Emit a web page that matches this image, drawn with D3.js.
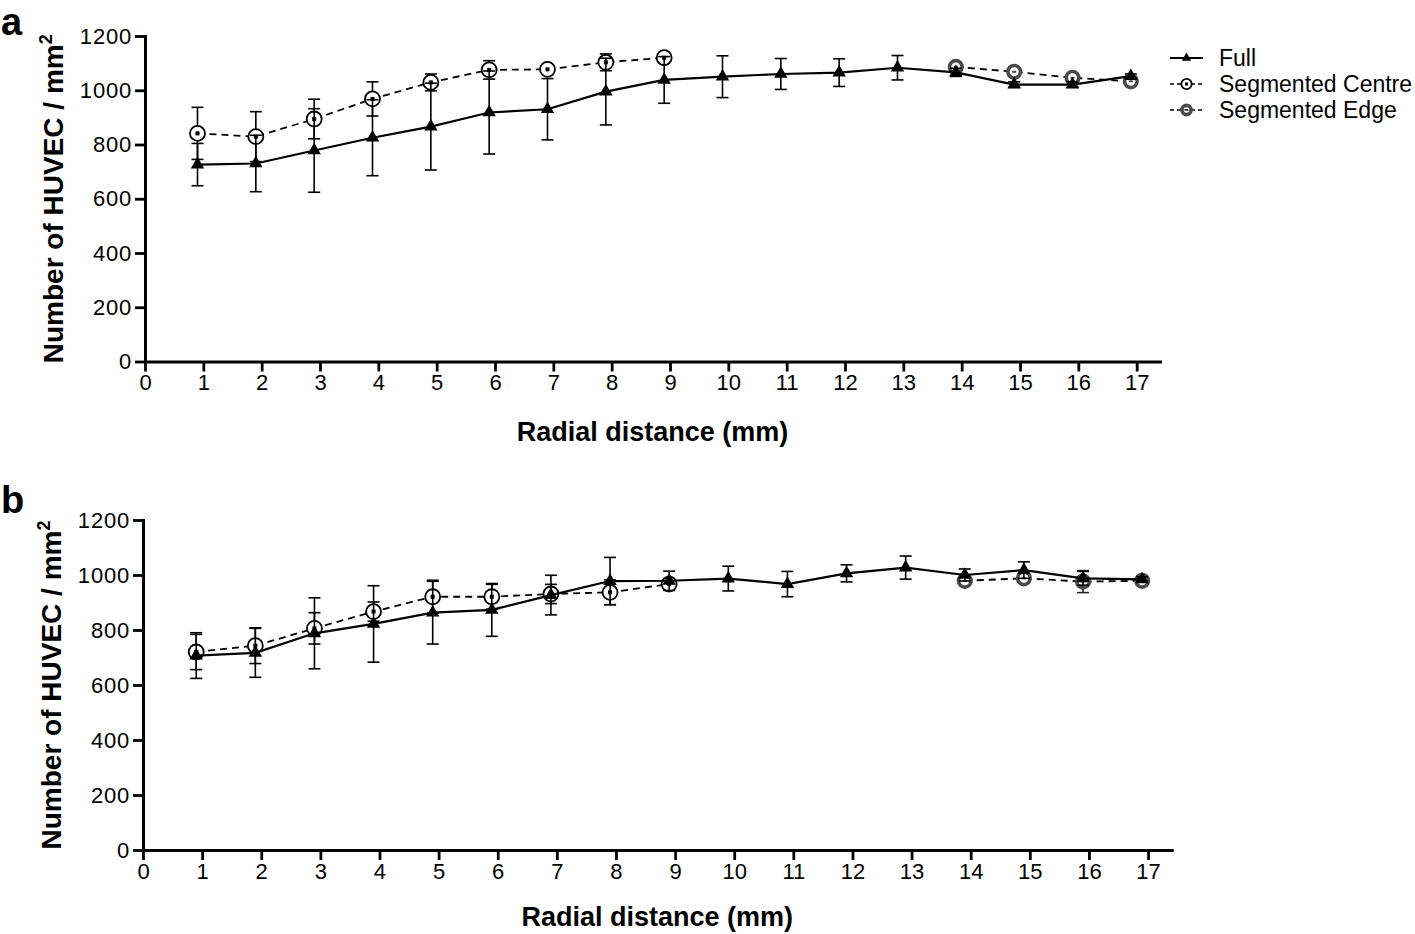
<!DOCTYPE html>
<html><head><meta charset="utf-8">
<script src="https://cdn.jsdelivr.net/npm/d3@7"></script>
<style>
body{margin:0;background:#fff}
svg{display:block}
text{font-family:"Liberation Sans",Arial,Helvetica,sans-serif;fill:#000}
</style>
</head><body>
<svg id="chart" width="1415" height="934"></svg>
<script>
// ---------- data ----------
const seriesNames = ["Full", "Segmented Centre", "Segmented Edge"];
const xTickValues = [0,1,2,3,4,5,6,7,8,9,10,11,12,13,14,15,16,17];
const yTickValues = [0,200,400,600,800,1000,1200];
const xTitle = "Radial distance (mm)";
const yTitle = "Number of HUVEC / mm";
const panelLabels = ["a", "b"];

const fullX   = [0.9,1.9,2.9,3.9,4.9,5.9,6.9,7.9,8.9,9.9,10.9,11.9,12.9,13.9,14.9,15.9,16.9];
const centreX = [0.9,1.9,2.9,3.9,4.9,5.9,6.9,7.9,8.9];
const edgeX   = [13.9,14.9,15.9,16.9];

// panel a
const aFullMean   = [726,730,778,825,866,918,930,995,1038,1050,1060,1065,1083,1066,1021,1021,1052];
const aFullErr    = [78,104,154,140,160,153,113,123,86,77,57,51,45,15,10,10,8];
const aCentreMean = [841,829,894,968,1029,1075,1077,1103,1120];
const aCentreErr  = [96,92,73,63,31,34,15,31,12];
const aEdgeMean   = [1086,1068,1046,1033];
const aEdgeErr    = [12,15,12,10];

// panel b
const bFullMean   = [707,717,788,822,863,873,927,978,979,987,967,1006,1027,1000,1018,988,984];
const bFullErr    = [83,89,129,139,114,96,72,86,35,45,46,31,42,22,30,25,10];
const bCentreMean = [720,743,806,867,921,921,931,937,967];
const bCentreErr  = [64,65,57,35,60,45,35,45,20];
const bEdgeMean   = [979,988,976,979];
const bEdgeErr    = [12,10,40,8];

// ---------- layout ----------
const svg = d3.select("#chart");
const panels = [
  {label: panelLabels[0], left:145, right:1160, top:36, bottom:361.5, labelY:35, titleY:441, legend:true,
   full:[fullX,aFullMean,aFullErr], centre:[centreX,aCentreMean,aCentreErr], edge:[edgeX,aEdgeMean,aEdgeErr]},
  {label: panelLabels[1], left:143, right:1171.7, top:520, bottom:850, labelY:513, titleY:926, legend:false,
   full:[fullX,bFullMean,bFullErr], centre:[centreX,bCentreMean,bCentreErr], edge:[edgeX,bEdgeMean,bEdgeErr]}
];

const triSym = d3.symbol().type(d3.symbolTriangle).size(78);
const triSymSmall = d3.symbol().type(d3.symbolTriangle).size(38);

function zip(s){ return s[0].map((x,i)=>({x:x, y:s[1][i], e:s[2][i]})); }

function drawCentreMarker(g, cx, cy, r, sq){
  g.append("circle").attr("cx",cx).attr("cy",cy).attr("r",r)
    .attr("fill","#fff").attr("stroke","#000").attr("stroke-width",1.8);
  g.append("rect").attr("x",cx-sq/2).attr("y",cy-sq/2).attr("width",sq).attr("height",sq).attr("fill","#000");
}
function drawEdgeMarker(g, cx, cy, r){
  g.append("circle").attr("cx",cx).attr("cy",cy).attr("r",r)
    .attr("fill","#fff").attr("stroke","#4a4a4a").attr("stroke-width",3.6);
  g.append("rect").attr("x",cx-2).attr("y",cy-1).attr("width",4).attr("height",2).attr("fill","#4a4a4a");
}

panels.forEach(p=>{
  const x = d3.scaleLinear().domain([0,17.4]).range([p.left,p.right]);
  const y = d3.scaleLinear().domain([0,1200]).range([p.bottom,p.top]);
  const g = svg.append("g");

  // panel letter
  svg.append("text").attr("x",1).attr("y",p.labelY).text(p.label)
    .style("font-size","38px").style("font-weight","bold");

  // axes
  const xa = g.append("g").attr("transform",`translate(0,${p.bottom})`)
    .call(d3.axisBottom(x).tickValues(xTickValues).tickFormat(d3.format("d")).tickSize(10).tickSizeOuter(0).tickPadding(3));
  const ya = g.append("g").attr("transform",`translate(${p.left},0)`)
    .call(d3.axisLeft(y).tickValues(yTickValues).tickFormat(d3.format("d")).tickSize(10).tickSizeOuter(0).tickPadding(3));
  [xa,ya].forEach(a=>{
    a.select(".domain").attr("stroke","#000").attr("stroke-width",3).attr("stroke-linecap","square");
    a.selectAll(".tick line").attr("stroke","#000").attr("stroke-width",2.8);
    a.selectAll(".tick text").style("font-size","22px").attr("fill","#000");
  });
  ya.selectAll(".tick text").style("letter-spacing","0.8px");

  // axis titles
  g.append("text").attr("x",(p.left+p.right)/2).attr("y",p.titleY)
    .attr("text-anchor","middle").style("font-size","27px").style("font-weight","bold").text(xTitle);
  const yt = g.append("text")
    .attr("transform",`translate(${p.left-82},${(p.top+p.bottom)/2}) rotate(-90)`)
    .attr("text-anchor","middle").style("font-size","28px").style("font-weight","bold");
  yt.append("tspan").text(yTitle);
  yt.append("tspan").attr("dy",-11).style("font-size","18px").text("2");

  const line = d3.line().x(d=>x(d.x)).y(d=>y(d.y));

  function errorBars(gg, data, color){
    data.forEach(d=>{
      const x0 = x(d.x), y1 = y(d.y+d.e), y2 = y(d.y-d.e);
      gg.append("line").attr("x1",x0).attr("x2",x0).attr("y1",y1).attr("y2",y2).attr("stroke",color).attr("stroke-width",1.6);
      [y1,y2].forEach(yy=>gg.append("line").attr("x1",x0-6).attr("x2",x0+6).attr("y1",yy).attr("y2",yy).attr("stroke",color).attr("stroke-width",1.6));
    });
  }

  // Edge
  const ed = zip(p.edge);
  const ge = g.append("g");
  ge.append("path").datum(ed).attr("d",line).attr("fill","none").attr("stroke","#000").attr("stroke-width",1.8).attr("stroke-dasharray","7,5");
  errorBars(ge, ed, "#222");
  ed.forEach(d=>drawEdgeMarker(ge, x(d.x), y(d.y), 6.3));

  // Centre
  const cd = zip(p.centre);
  const gc = g.append("g");
  gc.append("path").datum(cd).attr("d",line).attr("fill","none").attr("stroke","#000").attr("stroke-width",1.8).attr("stroke-dasharray","7,5");
  errorBars(gc, cd, "#000");
  cd.forEach(d=>drawCentreMarker(gc, x(d.x), y(d.y), 7.5, 4));

  // Full
  const fd = zip(p.full);
  const gf = g.append("g");
  gf.append("path").datum(fd).attr("d",line).attr("fill","none").attr("stroke","#000").attr("stroke-width",2.2);
  errorBars(gf, fd, "#000");
  gf.selectAll("path.tri").data(fd).join("path").attr("class","tri")
    .attr("transform",d=>`translate(${x(d.x)},${y(d.y)})`).attr("d",triSym).attr("fill","#000");

  // legend
  if(p.legend){
    const lg = svg.append("g");
    const lx1 = 1170, lx2 = 1203, mx = (lx1+lx2)/2, tx = 1219;
    const rows = [58,84,110];
    seriesNames.forEach((name,i)=>{
      const cy = rows[i];
      lg.append("line").attr("x1",lx1).attr("x2",lx2).attr("y1",cy).attr("y2",cy)
        .attr("stroke","#000").attr("stroke-width", i===0?2.2:1.6).attr("stroke-dasharray", i===0?null:"4,3");
      if(i===0) lg.append("path").attr("transform",`translate(${mx},${cy})`).attr("d",triSymSmall).attr("fill","#000");
      if(i===1) drawCentreMarker(lg, mx, cy, 5.2, 3);
      if(i===2) drawEdgeMarker(lg, mx, cy, 4.6);
      lg.append("text").attr("x",tx).attr("y",cy+8).style("font-size","23px").text(name);
    });
  }
});
</script>
</body></html>
